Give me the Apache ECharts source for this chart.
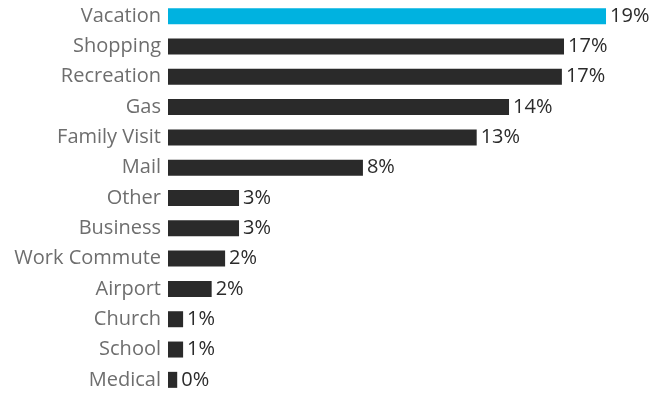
<!DOCTYPE html>
<html>
<head>
<meta charset="utf-8">
<style>
  html, body { margin: 0; padding: 0; background: #ffffff; }
  #chart { width: 655px; height: 395px; }
</style>
<script src="https://cdn.jsdelivr.net/npm/echarts@6/dist/echarts.min.js"></script>
</head>
<body>
<div id="chart"></div>
<script>
// Trip purpose shares (percent), listed top to bottom
const categories = ['Vacation', 'Shopping', 'Recreation', 'Gas', 'Family Visit', 'Mail', 'Other',
  'Business', 'Work Commute', 'Airport', 'Church', 'School', 'Medical'];
const shares = [18.56, 16.78, 16.69, 14.45, 13.08, 8.26, 3.01, 3.01, 2.42, 1.85, 0.64, 0.64, 0.39];
const highlighted = 'Vacation';

const HIGHLIGHT = '#00b2e0';
const BASE = '#2a2a2a';
const FONT = '"Open Sans", sans-serif';

const chart = echarts.init(document.getElementById('chart'), null, { renderer: 'canvas' });

chart.setOption({
  animation: false,
  grid: { left: 168, right: 15, top: 1, height: 397, containLabel: false },
  xAxis: {
    type: 'value', min: 0, max: 20,
    show: false
  },
  yAxis: {
    type: 'category',
    data: categories,
    inverse: true,
    axisLine: { show: false },
    axisTick: { show: false },
    axisLabel: { margin: 7, color: '#6e6e6e', fontSize: 20, fontFamily: FONT }
  },
  series: [{
    type: 'bar',
    barWidth: 16,
    data: categories.map((c, i) => ({
      value: shares[i],
      itemStyle: { color: c === highlighted ? HIGHLIGHT : BASE }
    })),
    label: {
      show: true,
      position: 'right',
      distance: 4,
      color: '#2b2b2b',
      fontSize: 20,
      fontFamily: FONT,
      formatter: p => Math.round(p.value) + '%'
    }
  }]
});
</script>
</body>
</html>
